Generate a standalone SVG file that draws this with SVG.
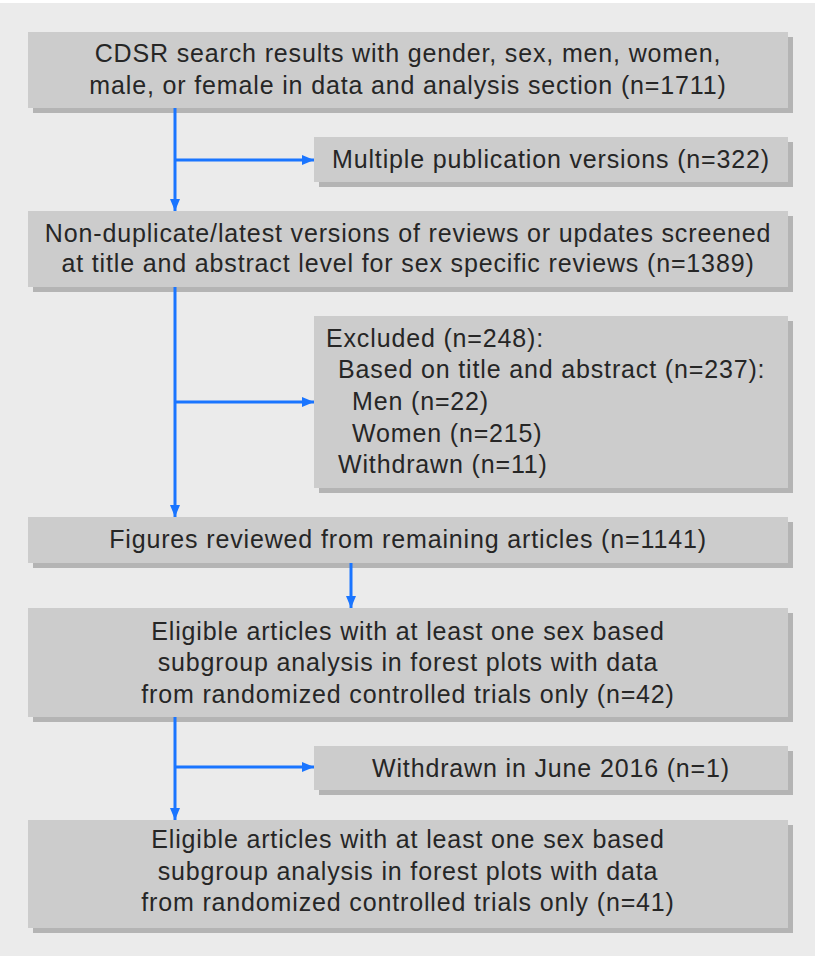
<svg xmlns="http://www.w3.org/2000/svg" width="820" height="956" viewBox="0 0 820 956">
<defs>
<style>
.bg{fill:#ebebeb}
.box{fill:#cccccc}
.sh{fill:#b4b4b4}
.t{font-family:"Liberation Sans",Arial,sans-serif;font-size:25px;letter-spacing:0.85px;fill:#262626}
.c{text-anchor:middle}
.ln{stroke:#1a75ff;stroke-width:3;fill:none}
</style>
<marker id="ah" viewBox="0 0 12 10" refX="12" refY="5" markerWidth="12" markerHeight="10" markerUnits="userSpaceOnUse" orient="auto">
<path d="M0,0 L12,5 L0,10 Z" fill="#1a75ff"/>
</marker>
</defs>
<rect class="bg" x="0" y="3" width="815" height="953"/>
<g id="n1">
<rect class="sh" x="33" y="37" width="760" height="76"/>
<rect class="box" x="28" y="32" width="760" height="76"/>
<text class="t c" x="408" y="62">CDSR search results with gender, sex, men, women,</text>
<text class="t c" x="408" y="94">male, or female in data and analysis section (n=1711)</text>
</g>
<g id="n2">
<rect class="sh" x="319" y="142" width="474" height="45"/>
<rect class="box" x="314" y="137" width="474" height="45"/>
<text class="t c" x="551" y="168">Multiple publication versions (n=322)</text>
</g>
<g id="n3">
<rect class="sh" x="33" y="216" width="760" height="76"/>
<rect class="box" x="28" y="211" width="760" height="76"/>
<text class="t c" x="408" y="242">Non-duplicate/latest versions of reviews or updates screened</text>
<text class="t c" x="408" y="272">at title and abstract level for sex specific reviews (n=1389)</text>
</g>
<g id="n4">
<rect class="sh" x="319" y="321" width="474" height="172"/>
<rect class="box" x="314" y="316" width="474" height="172"/>
<text class="t" x="326" y="347">Excluded (n=248):</text>
<text class="t" x="338" y="378">Based on title and abstract (n=237):</text>
<text class="t" x="352" y="410">Men (n=22)</text>
<text class="t" x="352" y="442">Women (n=215)</text>
<text class="t" x="338" y="473">Withdrawn (n=11)</text>
</g>
<g id="n5">
<rect class="sh" x="33" y="522" width="760" height="46"/>
<rect class="box" x="28" y="517" width="760" height="46"/>
<text class="t c" x="408" y="548">Figures reviewed from remaining articles (n=1141)</text>
</g>
<g id="n6">
<rect class="sh" x="33" y="613" width="760" height="109"/>
<rect class="box" x="28" y="608" width="760" height="109"/>
<text class="t c" x="408" y="640">Eligible articles with at least one sex based</text>
<text class="t c" x="408" y="671">subgroup analysis in forest plots with data</text>
<text class="t c" x="408" y="703">from randomized controlled trials only (n=42)</text>
</g>
<g id="n7">
<rect class="sh" x="319" y="751" width="474" height="44"/>
<rect class="box" x="314" y="746" width="474" height="44"/>
<text class="t c" x="551" y="777">Withdrawn in June 2016 (n=1)</text>
</g>
<g id="n8">
<rect class="sh" x="33" y="825" width="760" height="108"/>
<rect class="box" x="28" y="820" width="760" height="108"/>
<text class="t c" x="408" y="848">Eligible articles with at least one sex based</text>
<text class="t c" x="408" y="880">subgroup analysis in forest plots with data</text>
<text class="t c" x="408" y="911">from randomized controlled trials only (n=41)</text>
</g>
<g id="connectors">
<line class="ln" x1="175" y1="108" x2="175" y2="211" marker-end="url(#ah)"/>
<line class="ln" x1="175" y1="160" x2="314" y2="160" marker-end="url(#ah)"/>
<line class="ln" x1="175" y1="287" x2="175" y2="517" marker-end="url(#ah)"/>
<line class="ln" x1="175" y1="402" x2="314" y2="402" marker-end="url(#ah)"/>
<line class="ln" x1="351" y1="563" x2="351" y2="608" marker-end="url(#ah)"/>
<line class="ln" x1="175" y1="717" x2="175" y2="820" marker-end="url(#ah)"/>
<line class="ln" x1="175" y1="767" x2="314" y2="767" marker-end="url(#ah)"/>
</g>
</svg>
